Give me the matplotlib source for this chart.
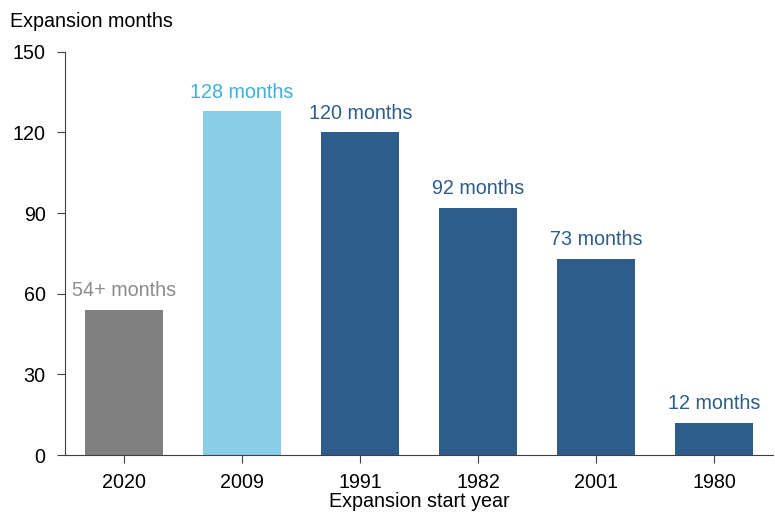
import matplotlib.pyplot as plt

plt.rcParams['font.family'] = ['Liberation Sans', 'DejaVu Sans']

# Dati
anni = ['2020', '2009', '1991', '1982', '2001', '1980']
mesi = [54, 128, 120, 92, 73, 12]
etichette = ['54+ months', '128 months', '120 months', '92 months', '73 months', '12 months']
colori = ['#808080', '#89cde6', '#2e5d8c', '#2e5d8c', '#2e5d8c', '#2e5d8c']
colori_testo = ['#8c8c8c', '#3cb1de', '#2e5d8c', '#2e5d8c', '#2e5d8c', '#2e5d8c']

fs = 14.2

fig = plt.figure(figsize=(7.75, 5.13), dpi=100)
ax = fig.add_axes([0.084, 0.113, 0.914, 0.786])

x = range(len(anni))
ax.bar(x, mesi, width=0.66, color=colori)
for i, (v, t) in enumerate(zip(mesi, etichette)):
    ax.text(i, v + 3.5, t, ha='center', va='bottom', fontsize=fs, color=colori_testo[i])

ax.set_xlim(-0.5, len(anni) - 0.5)
ax.set_ylim(0, 150)
ax.set_yticks([0, 30, 60, 90, 120, 150])
ax.set_xticks(list(x))
ax.set_xticklabels(anni)
ax.tick_params(axis='both', labelsize=fs, direction='out', length=6, width=0.8, color='#404040')
ax.tick_params(axis='y', pad=8)
ax.tick_params(axis='x', pad=7)
for s in ['top', 'right']:
    ax.spines[s].set_visible(False)
for s in ['left', 'bottom']:
    ax.spines[s].set_color('#404040')
    ax.spines[s].set_linewidth(0.8)

ax.set_xlabel('Expansion start year', fontsize=fs, labelpad=0)
fig.text(0.013, 0.94, 'Expansion months', fontsize=fs, ha='left', va='bottom')

fig.savefig('out.png', dpi=100)
